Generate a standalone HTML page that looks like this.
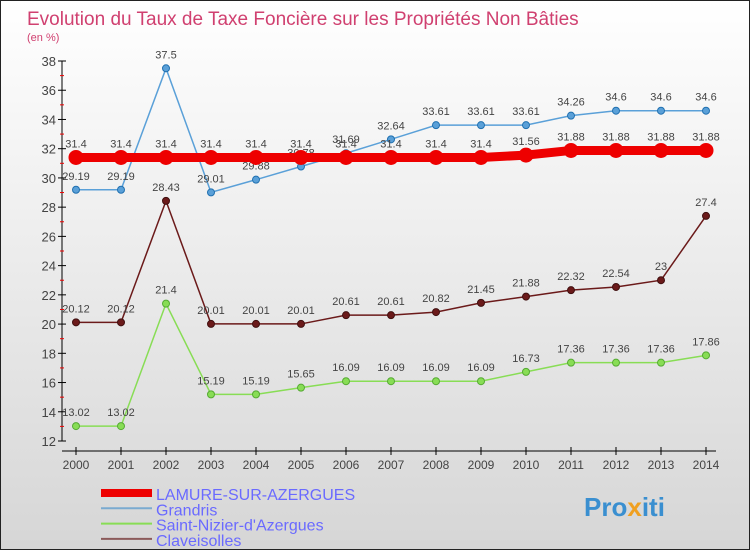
<!DOCTYPE html>
<html><head><meta charset="utf-8"><style>
body{margin:0}
#c{width:750px;height:550px;position:relative;background:linear-gradient(#ffffff,#d6d6d6);box-sizing:border-box;border:1px solid #222;font-family:"Liberation Sans",sans-serif;overflow:hidden}
</style></head><body>
<div id="c">
<svg id="s" width="750" height="550" style="position:absolute;left:0;top:0">
<text x="26" y="24" font-size="19" fill="#d04070">Evolution du Taux de Taxe Foncière sur les Propriétés Non Bâties</text>
<text x="26" y="40" font-size="11" fill="#d04070">(en %)</text>
</svg>
</div>
<script>
const years=[2000,2001,2002,2003,2004,2005,2006,2007,2008,2009,2010,2011,2012,2013,2014];
const yTicks=[12,14,16,18,20,22,24,26,28,30,32,34,36,38];
const lamure=[31.4,31.4,31.4,31.4,31.4,31.4,31.4,31.4,31.4,31.4,31.56,31.88,31.88,31.88,31.88];
const grandris=[29.19,29.19,37.5,29.01,29.88,30.78,31.69,32.64,33.61,33.61,33.61,34.26,34.6,34.6,34.6];
const nizier=[13.02,13.02,21.4,15.19,15.19,15.65,16.09,16.09,16.09,16.09,16.73,17.36,17.36,17.36,17.86];
const clave=[20.12,20.12,28.43,20.01,20.01,20.01,20.61,20.61,20.82,21.45,21.88,22.32,22.54,23,27.4];
const seriesNames=["LAMURE-SUR-AZERGUES","Grandris","Saint-Nizier-d'Azergues","Claveisolles"];
const NS="http://www.w3.org/2000/svg";
const s=document.getElementById('s');
const X=i=>75+i*45;
const Y=v=>440-(v-12)*(380/26);
function el(t,a,p){const e=document.createElementNS(NS,t);for(const k in a)e.setAttribute(k,a[k]);(p||s).appendChild(e);return e;}
// axes
let ax=el('line',{x1:61,y1:60,x2:61,y2:440,stroke:'#000','stroke-width':1});


let bx=el('line',{x1:61,y1:450,x2:715,y2:450,stroke:'#000','stroke-width':1});


yTicks.forEach(v=>{
  el('line',{x1:57,y1:Y(v),x2:65,y2:Y(v),stroke:'#000'});
  if(v<38)el('line',{x1:59,y1:Y(v+1),x2:63,y2:Y(v+1),stroke:'#e00'});
  const t=el('text',{x:55,y:Y(v)+5,'text-anchor':'end','font-size':13,fill:'#444'});
  t.textContent=v;
  
  
});
years.forEach((y,i)=>{
  el('line',{x1:X(i),y1:446,x2:X(i),y2:454,stroke:'#000'});
  const t=el('text',{x:X(i),y:468,'text-anchor':'middle','font-size':12,fill:'#444'});
  t.textContent=y;
  
  
});
function series(data,color,w,r,dark,name){
  const g=el('g',{});
  
  
  el('polyline',{points:data.map((v,i)=>X(i)+','+Y(v)).join(' '),fill:'none',stroke:color,'stroke-width':w},g);
  data.forEach((v,i)=>{
    const c=el('circle',{cx:X(i),cy:Y(v),r:r,fill:color,stroke:dark,'stroke-width':1},g);
    
    
    const t=el('text',{x:X(i),y:Y(v)-10,'text-anchor':'middle','font-size':11,fill:'#444'},g);
    t.textContent=v;
    
    
  });
}
series(clave,'#6b1a1a',1.5,3.5,'#401010','series-claveisolles');
series(nizier,'#88dd55',1.5,3.5,'#55aa33','series-saint-nizier');
series(grandris,'#5aa0d8',1.5,3.5,'#2070b0','series-grandris');
series(lamure,'#ee0000',9,7,'#ee0000','series-lamure');
// legend
const lc=['#ee0000','#7aaad0','#88dd55','#8b5a5a'],lw=[8,2,2,2];
seriesNames.forEach((n,i)=>{
  const y=492+i*15.3;
  const l=el('line',{x1:100,y1:y,x2:151,y2:y,stroke:lc[i],'stroke-width':lw[i]});
  
  
  const t=el('text',{x:155,y:y+7,'font-size':16,fill:'#6a6aff'});
  t.textContent=n;
  
  
});
const lg=el('text',{x:583,y:515,'font-size':26,'font-weight':'bold',fill:'#3a8fd0'});
lg.innerHTML='Pro<tspan fill="#f0a020">x</tspan>iti';


</script>
</body></html>
